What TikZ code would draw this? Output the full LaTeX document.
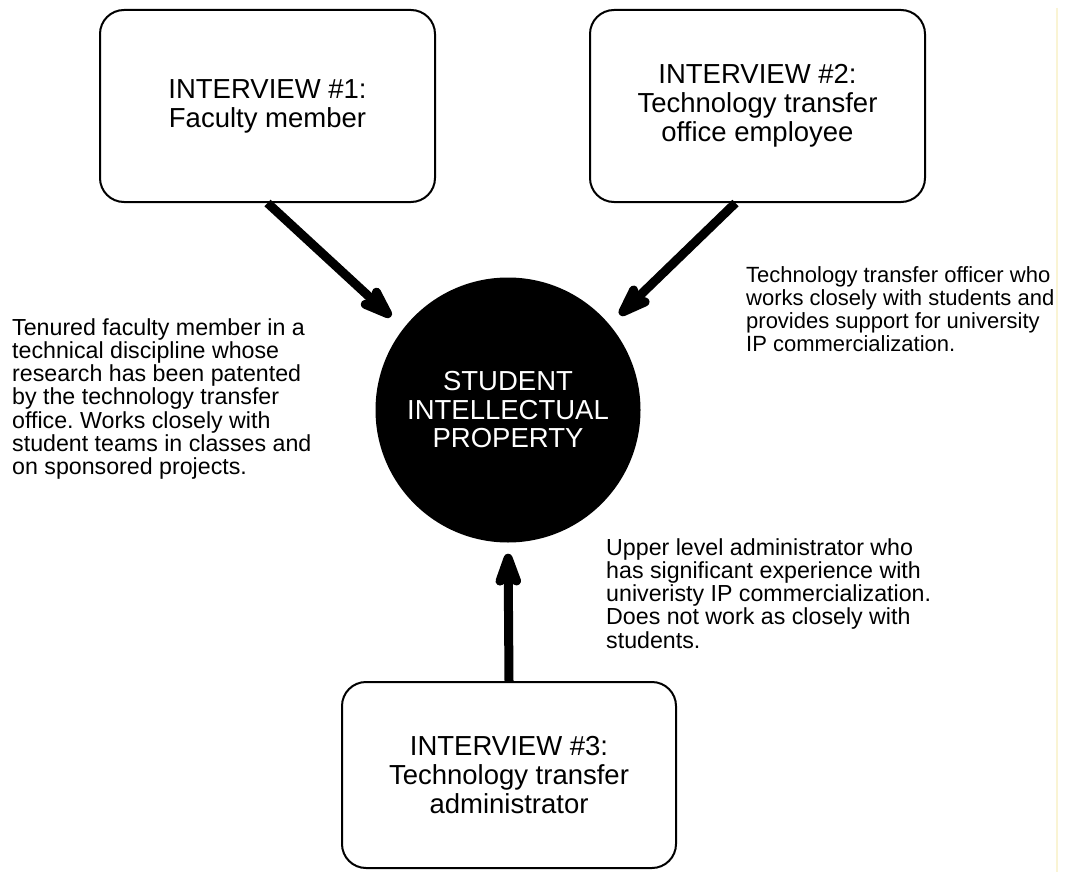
\documentclass[tikz,border=0pt]{standalone}
\usepackage{fontspec}
\setmainfont{Liberation Sans}
\usetikzlibrary{arrows.meta}
\frenchspacing
\definecolor{paleyellow}{RGB}{250,244,212}
\tikzset{
  ibox/.style={draw=black, line width=2pt, rounded corners=24pt, minimum width=335pt, align=center, inner sep=0pt,
    font=\fontsize{27.5}{28.8}\selectfont},
  desc/.style={anchor=north west, align=left, inner sep=0pt, font=\fontsize{23.2}{23.3}\selectfont},
  bigarrow/.style={line width=9pt, -{Stealth[length=47pt, width=33pt, inset=11pt, round]}},
}
\begin{document}
\begin{tikzpicture}[x=1pt, y=-1pt]
\useasboundingbox (0,0) rectangle (1066,872);
\fill[white] (0,0) rectangle (1066,872);

\node[ibox, minimum height=192pt] (b1) at (267.5,106) {INTERVIEW \#1:\\Faculty member};
\node[ibox, minimum height=192pt] (b2) at (757.5,106) {INTERVIEW \#2:\\Technology transfer\\office employee};
\node[ibox, minimum width=334pt, minimum height=186pt] (b3) at (509,775) {\rule{0pt}{6pt}INTERVIEW \#3:\\Technology transfer\\administrator};

\node[circle, fill=black, minimum size=265pt, inner sep=0pt, align=center, text=white,
  font=\fontsize{27.5}{28.5}\selectfont] (c) at (508,410) {STUDENT\\INTELLECTUAL\\PROPERTY};

\draw[bigarrow, shorten >=17pt] (b1.south) -- (c.142);
\draw[bigarrow, shorten >=14pt] ([xshift=-22pt]b2.south) -- (c.40);
\draw[bigarrow, shorten >=11pt] (b3.north) -- (c.south);

\node[desc] (d1) at (12,318) {Tenured faculty member in a\\technical discipline whose\\research has been patented\\by the technology transfer\\office. Works closely with\\student teams in classes and\\on sponsored projects.};
\node[desc, font=\fontsize{22}{23.2}\selectfont] (d2) at (746,266) {Technology transfer officer who\\works closely with students and\\provides support for university\\IP commercialization.};
\node[desc] (d3) at (606,538) {Upper level administrator who\\has significant experience with\\univeristy IP commercialization.\\Does not work as closely with\\students.};

\draw[paleyellow, line width=1.5pt] (1057,8) -- (1057,872);
\end{tikzpicture}
\end{document}
